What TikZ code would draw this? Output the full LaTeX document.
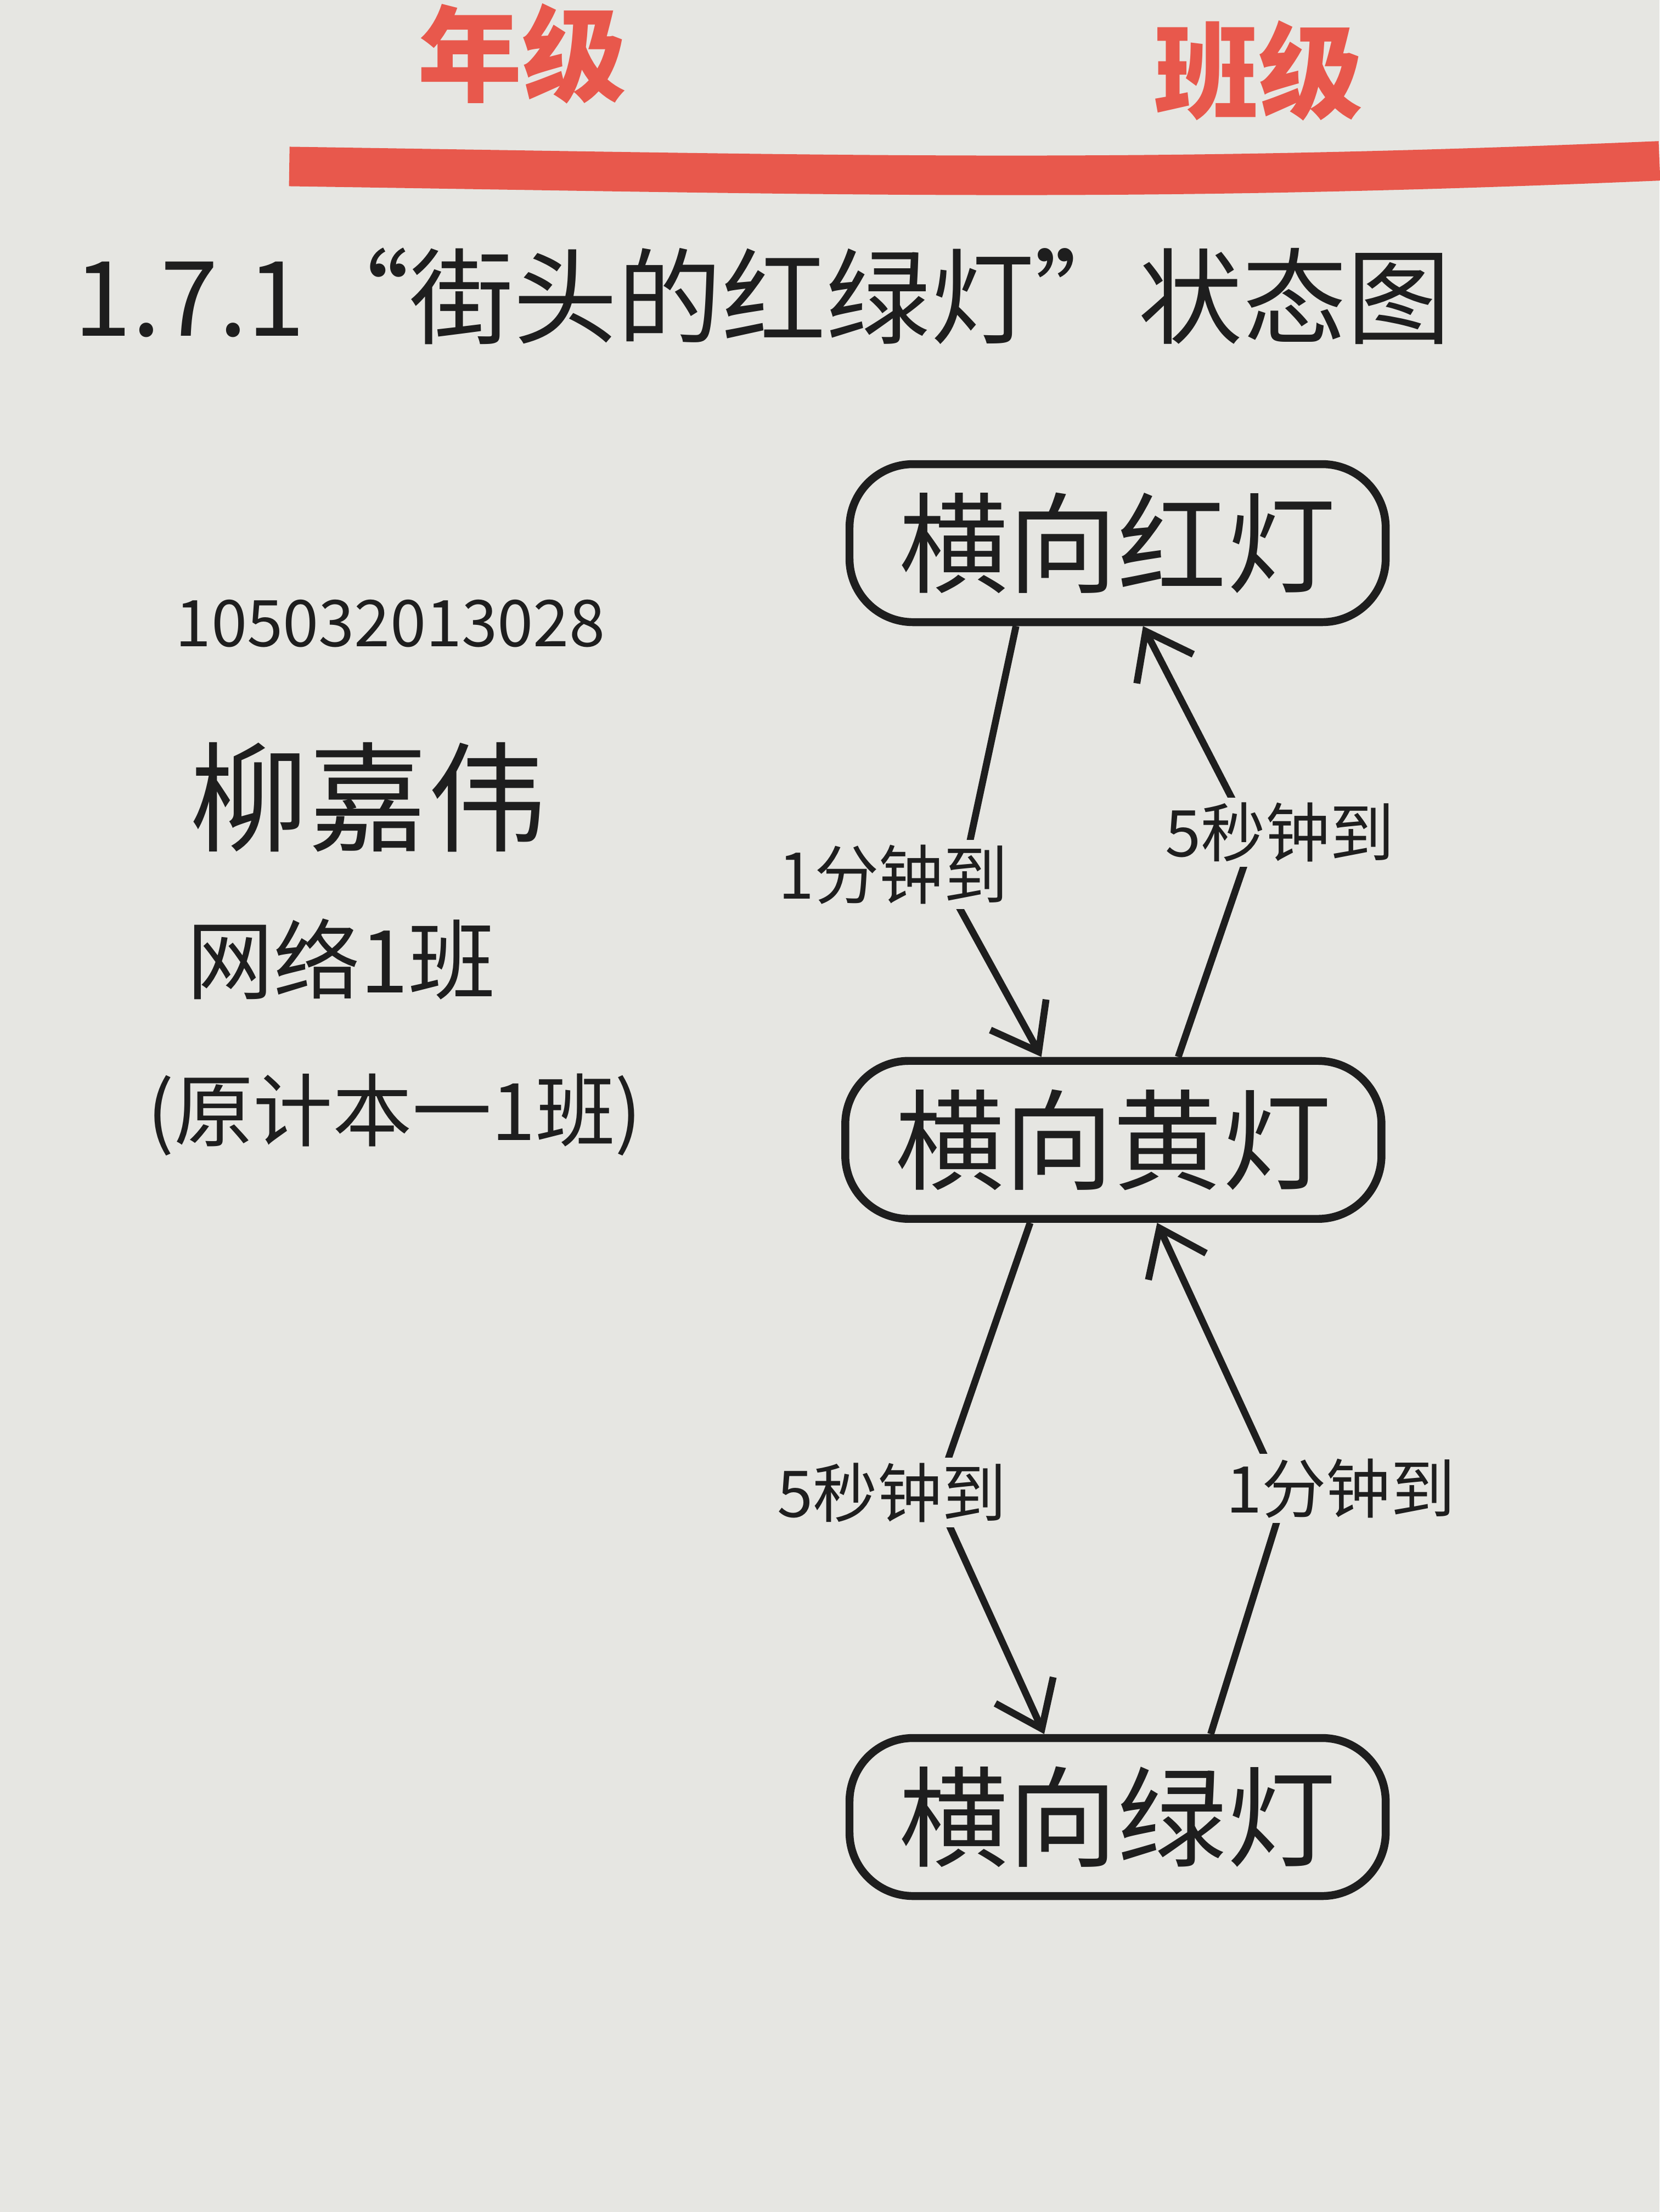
\documentclass[tikz,border=0pt]{standalone}
\usepackage{fontspec}
\setmainfont{Noto Sans CJK SC}
\usepackage{tikz}
\usetikzlibrary{arrows.meta}
\definecolor{paper}{RGB}{230,230,226}
\definecolor{ink}{RGB}{30,30,30}
\definecolor{printred}{RGB}{232,88,76}
\tikzset{
  lamp/.style={draw=ink, line width=1.6pt, rounded corners=4.5mm,
    minimum width=38mm, minimum height=11.2mm, text=ink,
    font=\fontsize{22}{26}\selectfont},
  trans/.style={draw=ink, line width=1.4pt, -{Straight Barb[length=3mm,width=4.5mm]}},
  timelbl/.style={fill=paper, inner sep=1pt, text=ink,
    font=\fontsize{13}{15}\selectfont},
  hand/.style={text=ink, anchor=west}
}
\begin{document}
\begin{tikzpicture}[x=0.1mm, y=-0.1mm]
		\useasboundingbox (0,0) rectangle (1176,1568);
		\fill[paper] (0,0) rectangle (1176,1568);
		% Printed header
		\node[text=printred, font=\fontsize{21}{24}\selectfont\bfseries] (nianji) at (370,38) {年级};
		\node[text=printred, font=\fontsize{21}{24}\selectfont\bfseries] (banji) at (892,50) {班级};
		\draw[printred, line width=2.8mm] (205,118) .. controls (600,124) and (800,130) .. (1176,114);
		% Title
		\node[hand, font=\fontsize{21}{25}\selectfont] (title) at (40,210) {1.7.1“街头的红绿灯”状态图};
		% Student info
		\node[hand, font=\fontsize{13}{16}\selectfont] (stuid) at (112,442) {105032013028};
		\node[hand, font=\fontsize{24}{28}\selectfont] (stuname) at (122,565) {柳嘉伟};
		\node[hand, font=\fontsize{17.5}{21}\selectfont] (stuclass) at (120,680) {网络1班};
		\node[hand, font=\fontsize{16}{20}\selectfont] (oldclass) at (92,790) {(原计本一1班)};
		% States
		\node[lamp] (hong) at (792,385) {横向红灯};
		\node[lamp] (huang) at (789,808) {横向黄灯};
		\node[lamp] (lv) at (792,1288) {横向绿灯};
		% Red -> yellow
		\coordinate (k1) at (678,640);
		\draw[trans] ([xshift=-7.2mm]hong.south) -- (k1) -- ([xshift=-5.1mm]huang.north);
		\node[timelbl] (t1) at (633,620) {1分钟到};
		% Yellow -> red
		\coordinate (k2) at (888,595);
		\draw[trans] ([xshift=4.6mm]huang.north) -- (k2) -- ([xshift=1.8mm]hong.south);
		\node[timelbl] (t2) at (907,590) {5秒钟到};
		% Yellow -> green
		\coordinate (k3) at (663,1060);
		\draw[trans] ([xshift=-5.9mm]huang.south) -- (k3) -- ([xshift=-5.2mm]lv.north);
		\node[timelbl] (t3) at (632,1058) {5秒钟到};
		% Green -> yellow
		\coordinate (k4) at (910,1062);
		\draw[trans] ([xshift=6.6mm]lv.north) -- (k4) -- ([xshift=3.1mm]huang.south);
		\node[timelbl] (t4) at (950,1055) {1分钟到};
	\end{tikzpicture}
\end{document}
